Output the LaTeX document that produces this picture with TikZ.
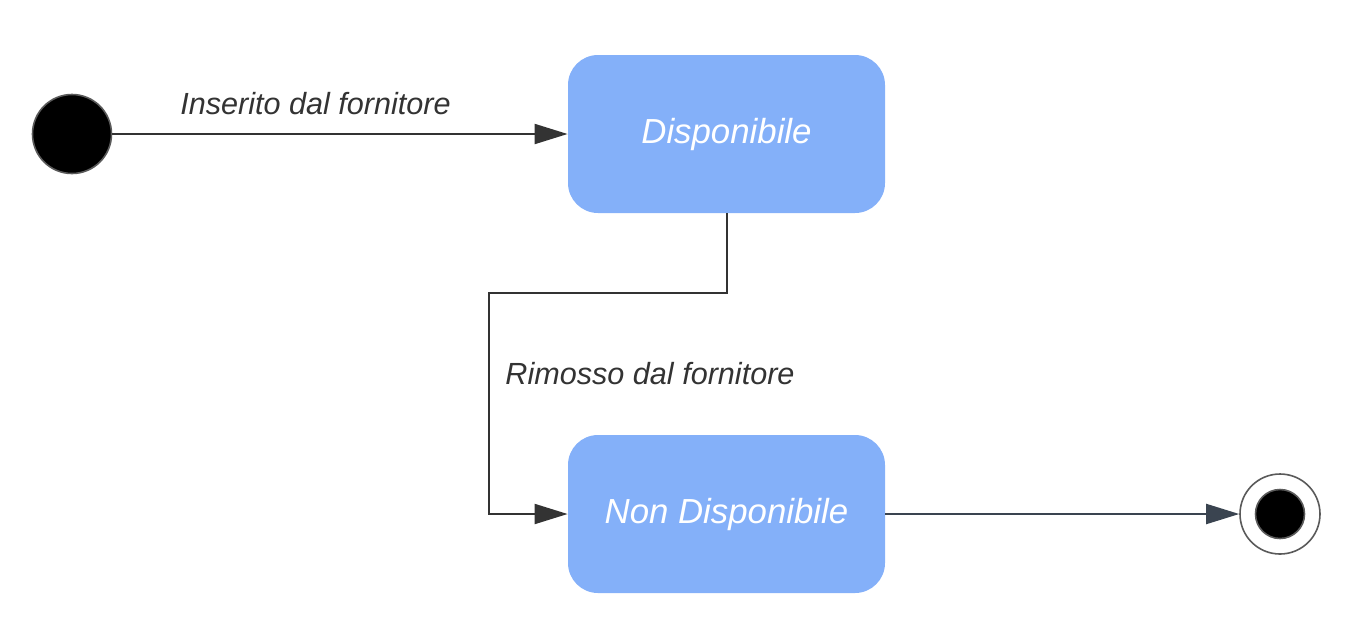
\documentclass[tikz,border=0pt]{standalone}
\usepackage{fontspec}
\setmainfont{Liberation Sans}
\usetikzlibrary{arrows.meta}
\definecolor{boxblue}{HTML}{84B0F9}
\definecolor{linegray}{HTML}{333333}
\definecolor{rimgray}{HTML}{5A5A5A}
\definecolor{slate}{HTML}{3A4450}
\tikzset{
  statebox/.style={rectangle, rounded corners=15pt, fill=boxblue, draw=none,
    minimum width=158.5pt, minimum height=79pt, inner sep=0pt,
    text=white, font=\itshape\fontsize{17.4}{20}\selectfont},
  translabel/.style={text=linegray, font=\itshape\fontsize{15.3}{18}\selectfont, inner sep=0pt},
  conn/.style={draw=linegray, line width=1pt, -{Triangle[length=16.5pt,width=10pt]}},
  initstate/.style={circle, fill=black, draw=rimgray, line width=0.8pt, minimum size=39.5pt, inner sep=0pt},
  finalout/.style={circle, fill=white, draw=rimgray, line width=0.8pt, minimum size=40pt, inner sep=0pt},
  finalin/.style={circle, fill=black, draw=rimgray, line width=0.8pt, minimum size=24.5pt, inner sep=0pt}
}
\begin{document}
\begin{tikzpicture}[x=0.5pt,y=-0.5pt]
\useasboundingbox (0,0) rectangle (1350,634);
\node[initstate] (init) at (72,134) {};
\node[statebox] (disp) at (726.5,134) {Disponibile};
\node[statebox] (nondisp) at (726.5,514) {Non Disponibile};
\node[finalout] (final) at (1280,514) {};
\node[finalin] (finalc) at (final.center) {};
\node[translabel] (lab1) at (315.5,104) {Inserito dal fornitore};
\node[translabel] (lab2) at (650,374) {Rimosso dal fornitore};
\coordinate (c1) at (726.5,292.5);
\coordinate (c2) at (489,292.5);
\draw[conn] (init.east) -- (disp.west);
\draw[conn] (disp.south) -- (c1) -- (c2) |- (nondisp.west);
\draw[conn, draw=slate] (nondisp.east) -- (final.west);
\end{tikzpicture}
\end{document}
